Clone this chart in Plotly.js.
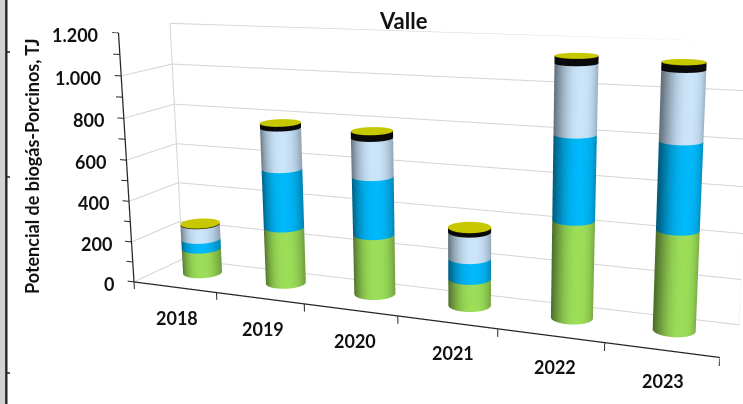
<!DOCTYPE html>
<html><head><meta charset="utf-8">
<script src="https://cdn.plot.ly/plotly-3.0.1.min.js"></script>
<style>html,body{margin:0;padding:0;width:743px;height:404px;overflow:hidden;background:#fff}
#wrap{position:absolute;left:0;top:0;width:743px;height:404px;overflow:hidden}
#chart{position:absolute;left:-10px;top:-350px;width:753px;height:1102px}</style>
</head><body><div id="wrap"><div id="chart"></div></div>
<script>
const years=['2018','2019','2020','2021','2022','2023'];
const green=[124,274,283,125,436,435];
const blue=[49,283,273,95,372,373];
const lightBlue=[73,195,178,120,300,291];
const black=[3,22,30,20,30,30];
const yellowCap=[2,2,2,2,2,2];
const zTicks=[0,200,400,600,800,1000,1200];
const zLabels=['0','200','400','600','800','1.000','1.200'];
const colors=[[156,222,88],[0,184,250],[202,228,250],[10,10,10],[200,200,0]];
const series=[green,blue,lightBlue,black,yellowCap];
const barNudge=[-.01,-.005,.005,.015,.035,-.01];
const barWidthFactor=[.95,.95,.95,.95,.9,.88];
const labelNudge=[2,3,5,6,5,2];

const W=753,H=1102,TOP=350,LEFT=10;
const rx=0.2157,ry=0.235,N=64,cy=0.6;
const xLo=-0.08,zLo=-36;
function mix(c,f){return 'rgb('+c.map(v=>Math.round(v*f)).join(',')+')';}
function shade(t){const u=(0.909*Math.cos(t)+0.416*Math.sin(t)-0.12)/1.12;return 1-0.5*Math.pow(Math.abs(u),2.4);}
const traces=[];
series.forEach((vals,si)=>{
  const X=[],Y=[],Z=[],I=[],J=[],K=[],C=[];
  vals.forEach((v,yi)=>{
    let base=0;for(let s=0;s<si;s++)base+=series[s][yi];
    const cx=yi+0.5+barNudge[yi],o=X.length,f=barWidthFactor[yi],ax=rx*f,ay=ry*f;
    for(let a=0;a<N;a++){
      const t=2*Math.PI*a/N,c=mix(colors[si],si==3?1:shade(t));
      X.push(cx+ax*Math.cos(t),cx+ax*Math.cos(t));
      Y.push(cy+ay*Math.sin(t),cy+ay*Math.sin(t));
      Z.push(base,base+v);C.push(c,c);
      const b=(a+1)%N;
      I.push(o+2*a,o+2*a+1);J.push(o+2*b,o+2*b);K.push(o+2*a+1,o+2*b+1);
    }
    if(si==series.length-1){
      const ci=X.length;X.push(cx);Y.push(cy);Z.push(base+v);C.push(mix(colors[si],1));
      const s=X.length;
      for(let a=0;a<N;a++){const t=2*Math.PI*a/N;X.push(cx+ax*Math.cos(t));Y.push(cy+ay*Math.sin(t));Z.push(base+v);C.push(mix(colors[si],1));
        I.push(ci);J.push(s+a);K.push(s+(a+1)%N);}
    }
  });
  traces.push({type:'mesh3d',x:X,y:Y,z:Z,i:I,j:J,k:K,vertexcolor:C,flatshading:false,hoverinfo:'skip',showscale:false,
    lighting:{ambient:1,diffuse:0,specular:0,roughness:1,fresnel:0}});
});
function line3(x,y,z,color,width){traces.push({type:'scatter3d',mode:'lines',x,y,z,line:{color,width},hoverinfo:'skip',showlegend:false});}
const wall='#d4d4d4';
line3([0,0,6,6,6],[0,1,1,0,0],[0,0,0,0,0],wall,2);
line3([0,0],[1,1],[0,1200],wall,2);
line3([6,6],[1,1],[0,1200],wall,2);
zTicks.slice(1).forEach(v=>line3([0,0,6],[0,1,1],[v,v,v],wall,2));
const axisC='#262626';
line3([0,6],[0,0],[0,0],axisC,2.5);
line3([0,0],[0,0],[0,1200],axisC,2.5);
for(let i=0;i<=6;i++)line3([i,i],[0,0],[0,zLo],axisC,2);
for(let v=0;v<=1200;v+=100)line3([0,xLo],[0,0],[v,v],axisC,2);

const font={family:'Lato',size:18,color:'#111',weight:700};
const annos=[];
zTicks.forEach((v,i)=>annos.push({x:0,y:0,z:v,text:zLabels[i],showarrow:false,xanchor:'right',yanchor:'middle',xshift:-18,yshift:-2,font}));
years.forEach((v,i)=>annos.push({x:i+0.5,y:0,z:0,text:v,showarrow:false,xanchor:'center',yanchor:'middle',xshift:labelNudge[i],yshift:-31,font}));

const px=p=>(p+LEFT)/W, py=p=>1-(p+TOP)/H;
const axisOff={showgrid:false,zeroline:false,showline:false,showticklabels:false,ticks:'',showbackground:false,showspikes:false,title:{text:''}};
const s=2;
const Lx=.4331,Ly=.0669,Lz=.1869;
const dx=(xLo/2)/6*Lx, dz=(zLo/2)/1200*Lz; // box centre moves with the extended ranges
const tick=y=>({type:'line',xref:'paper',yref:'paper',x0:px(7),x1:px(10),y0:py(y),y1:py(y),line:{color:'#222',width:1.5}});
const layout={width:W,height:H,margin:{l:0,r:0,t:0,b:0},paper_bgcolor:'#fff',showlegend:false,
 scene:{domain:{x:[0,1],y:[0,1]},aspectmode:'manual',aspectratio:{x:Lx*(6-xLo)/6*s,y:Ly*s,z:Lz*(1200-zLo)/1200*s},
  camera:{eye:{x:(.3526-dx)*s,y:-.8248*s,z:(.1953-dz)*s},center:{x:(-.029-dx)*s,y:-.0186*s,z:(-.0184-dz)*s},up:{x:-.0904,y:.2367,z:.9722},projection:{type:'perspective'}},
  xaxis:Object.assign({},axisOff,{range:[xLo,6]}),
  yaxis:Object.assign({},axisOff,{range:[0,1]}),
  zaxis:Object.assign({},axisOff,{range:[zLo,1200]}),
  annotations:annos},
 annotations:[
  {xref:'paper',yref:'paper',x:px(404),y:py(20),text:'Valle',showarrow:false,font:{family:'Lato',size:22,color:'#111',weight:700}},
  {xref:'paper',yref:'paper',x:px(19),y:py(166),text:'Potencial de biogás-Porcinos, TJ',textangle:-90,showarrow:false,font:{family:'Lato',size:18,color:'#111',weight:700}}
 ],
 shapes:[
  {type:'rect',xref:'paper',yref:'paper',x0:px(0),x1:px(5),y0:py(404),y1:py(0),fillcolor:'#d2d2d2',line:{width:0}},
  {type:'line',xref:'paper',yref:'paper',x0:px(6.3),x1:px(6.3),y0:py(404),y1:py(0),line:{color:'#262626',width:2.4}},
  tick(52),tick(177),tick(373)
 ]};
Plotly.newPlot('chart',traces,layout,{displayModeBar:false});
</script></body></html>
